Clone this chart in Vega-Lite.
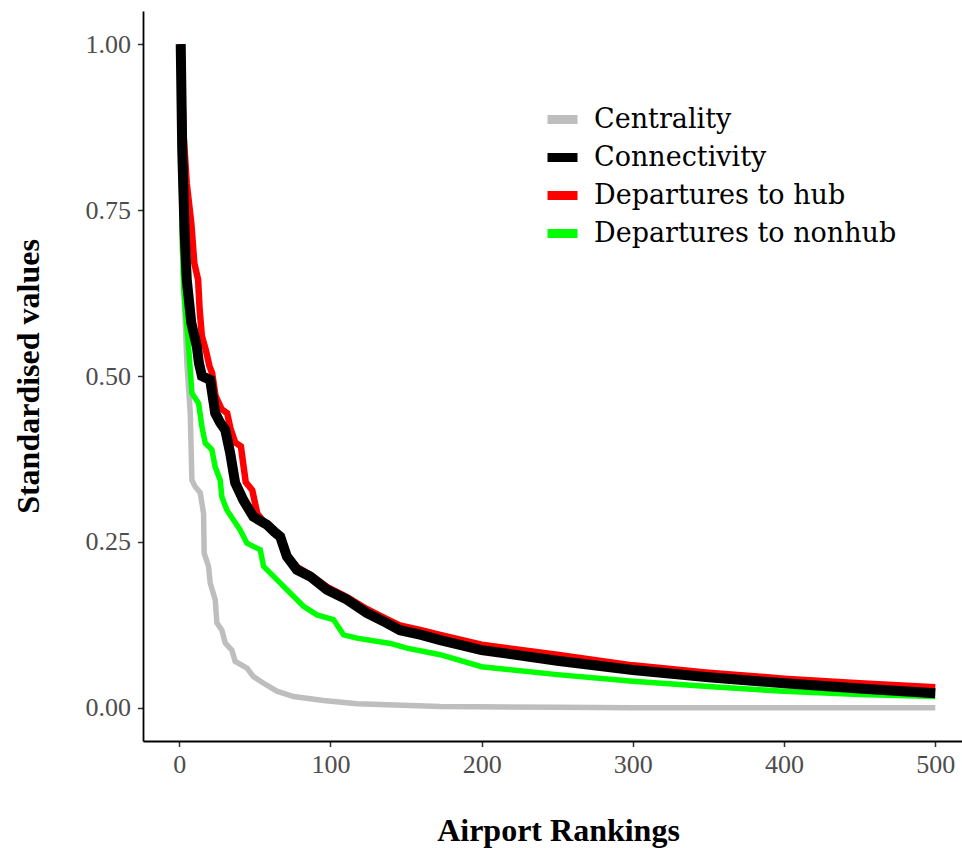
{
  "$schema": "https://vega.github.io/schema/vega-lite/v6.json",
  "autosize": {"type": "none"},
  "width": 830,
  "height": 730,
  "padding": {"left": 143, "top": 11, "right": 0, "bottom": 107},
  "background": "white",
  "config": {
    "view": {"stroke": null},
    "axis": {
      "grid": false,
      "domainColor": "#000000",
      "domainWidth": 1.8,
      "tickColor": "#333333",
      "tickWidth": 1.5,
      "tickSize": 5.5,
      "labelFont": "Liberation Serif",
      "labelFontSize": 26,
      "labelColor": "#4d4d4d",
      "titleFont": "Liberation Serif",
      "titleFontSize": 32,
      "titleFontWeight": "bold",
      "titleColor": "#000000"
    },
    "legend": {
      "labelFont": "DejaVu Serif",
      "labelFontSize": 27,
      "labelColor": "#000000",
      "labelLimit": 0,
      "symbolType": "stroke",
      "symbolSize": 900,
      "symbolStrokeWidth": 9,
      "labelOffset": 12,
      "rowPadding": -0.7,
      "padding": 0
    }
  },
  "data": {
    "values": [
      {"series": "Centrality", "rank": 1, "value": 1.0},
      {"series": "Centrality", "rank": 1.5, "value": 0.8},
      {"series": "Centrality", "rank": 2, "value": 0.7},
      {"series": "Centrality", "rank": 2.9, "value": 0.645},
      {"series": "Centrality", "rank": 5.1, "value": 0.519},
      {"series": "Centrality", "rank": 7.3, "value": 0.444},
      {"series": "Centrality", "rank": 8.4, "value": 0.343},
      {"series": "Centrality", "rank": 10.6, "value": 0.333},
      {"series": "Centrality", "rank": 13.9, "value": 0.324},
      {"series": "Centrality", "rank": 16.1, "value": 0.293},
      {"series": "Centrality", "rank": 16.5, "value": 0.233},
      {"series": "Centrality", "rank": 19.4, "value": 0.213},
      {"series": "Centrality", "rank": 20.5, "value": 0.188},
      {"series": "Centrality", "rank": 23.8, "value": 0.163},
      {"series": "Centrality", "rank": 24.9, "value": 0.128},
      {"series": "Centrality", "rank": 28.2, "value": 0.117},
      {"series": "Centrality", "rank": 30.4, "value": 0.098},
      {"series": "Centrality", "rank": 34.8, "value": 0.087},
      {"series": "Centrality", "rank": 37, "value": 0.07},
      {"series": "Centrality", "rank": 44.8, "value": 0.06},
      {"series": "Centrality", "rank": 49.1, "value": 0.047},
      {"series": "Centrality", "rank": 55.8, "value": 0.037},
      {"series": "Centrality", "rank": 64.6, "value": 0.025},
      {"series": "Centrality", "rank": 75.6, "value": 0.017},
      {"series": "Centrality", "rank": 95.4, "value": 0.011},
      {"series": "Centrality", "rank": 117.5, "value": 0.006},
      {"series": "Centrality", "rank": 172.6, "value": 0.002},
      {"series": "Centrality", "rank": 250, "value": 0.001},
      {"series": "Centrality", "rank": 300, "value": 0.0},
      {"series": "Centrality", "rank": 500, "value": 0.0},

      {"series": "Departures to nonhub", "rank": 1, "value": 1.0},
      {"series": "Departures to nonhub", "rank": 1.5, "value": 0.8},
      {"series": "Departures to nonhub", "rank": 2.2, "value": 0.69},
      {"series": "Departures to nonhub", "rank": 3, "value": 0.63},
      {"series": "Departures to nonhub", "rank": 4, "value": 0.6},
      {"series": "Departures to nonhub", "rank": 6.2, "value": 0.544},
      {"series": "Departures to nonhub", "rank": 8.4, "value": 0.474},
      {"series": "Departures to nonhub", "rank": 12.8, "value": 0.459},
      {"series": "Departures to nonhub", "rank": 15, "value": 0.424},
      {"series": "Departures to nonhub", "rank": 17.2, "value": 0.399},
      {"series": "Departures to nonhub", "rank": 21.6, "value": 0.389},
      {"series": "Departures to nonhub", "rank": 23.8, "value": 0.363},
      {"series": "Departures to nonhub", "rank": 27.1, "value": 0.343},
      {"series": "Departures to nonhub", "rank": 28.2, "value": 0.318},
      {"series": "Departures to nonhub", "rank": 31.5, "value": 0.298},
      {"series": "Departures to nonhub", "rank": 35.9, "value": 0.283},
      {"series": "Departures to nonhub", "rank": 40.3, "value": 0.268},
      {"series": "Departures to nonhub", "rank": 44.8, "value": 0.248},
      {"series": "Departures to nonhub", "rank": 53.6, "value": 0.238},
      {"series": "Departures to nonhub", "rank": 55.8, "value": 0.213},
      {"series": "Departures to nonhub", "rank": 62.4, "value": 0.198},
      {"series": "Departures to nonhub", "rank": 71.2, "value": 0.178},
      {"series": "Departures to nonhub", "rank": 82.2, "value": 0.153},
      {"series": "Departures to nonhub", "rank": 91.1, "value": 0.14},
      {"series": "Departures to nonhub", "rank": 102, "value": 0.133},
      {"series": "Departures to nonhub", "rank": 108.7, "value": 0.11},
      {"series": "Departures to nonhub", "rank": 117.5, "value": 0.105},
      {"series": "Departures to nonhub", "rank": 139.6, "value": 0.097},
      {"series": "Departures to nonhub", "rank": 150.6, "value": 0.09},
      {"series": "Departures to nonhub", "rank": 172.6, "value": 0.08},
      {"series": "Departures to nonhub", "rank": 200, "value": 0.062},
      {"series": "Departures to nonhub", "rank": 250, "value": 0.05},
      {"series": "Departures to nonhub", "rank": 300, "value": 0.04},
      {"series": "Departures to nonhub", "rank": 350, "value": 0.032},
      {"series": "Departures to nonhub", "rank": 400, "value": 0.025},
      {"series": "Departures to nonhub", "rank": 450, "value": 0.02},
      {"series": "Departures to nonhub", "rank": 500, "value": 0.017},

      {"series": "Departures to hub", "rank": 1, "value": 1.0},
      {"series": "Departures to hub", "rank": 3, "value": 0.86},
      {"series": "Departures to hub", "rank": 5, "value": 0.79},
      {"series": "Departures to hub", "rank": 8, "value": 0.73},
      {"series": "Departures to hub", "rank": 10, "value": 0.67},
      {"series": "Departures to hub", "rank": 12.5, "value": 0.645},
      {"series": "Departures to hub", "rank": 13.5, "value": 0.6},
      {"series": "Departures to hub", "rank": 15, "value": 0.56},
      {"series": "Departures to hub", "rank": 17.6, "value": 0.539},
      {"series": "Departures to hub", "rank": 20, "value": 0.515},
      {"series": "Departures to hub", "rank": 21.8, "value": 0.504},
      {"series": "Departures to hub", "rank": 24, "value": 0.47},
      {"series": "Departures to hub", "rank": 28, "value": 0.45},
      {"series": "Departures to hub", "rank": 31.7, "value": 0.444},
      {"series": "Departures to hub", "rank": 34, "value": 0.42},
      {"series": "Departures to hub", "rank": 37, "value": 0.4},
      {"series": "Departures to hub", "rank": 40.8, "value": 0.394},
      {"series": "Departures to hub", "rank": 42, "value": 0.373},
      {"series": "Departures to hub", "rank": 44, "value": 0.34},
      {"series": "Departures to hub", "rank": 48.3, "value": 0.328},
      {"series": "Departures to hub", "rank": 50, "value": 0.31},
      {"series": "Departures to hub", "rank": 51.6, "value": 0.293},
      {"series": "Departures to hub", "rank": 56, "value": 0.28},
      {"series": "Departures to hub", "rank": 63, "value": 0.268},
      {"series": "Departures to hub", "rank": 67, "value": 0.26},
      {"series": "Departures to hub", "rank": 71, "value": 0.232},
      {"series": "Departures to hub", "rank": 78, "value": 0.212},
      {"series": "Departures to hub", "rank": 87, "value": 0.2},
      {"series": "Departures to hub", "rank": 98, "value": 0.182},
      {"series": "Departures to hub", "rank": 111, "value": 0.167},
      {"series": "Departures to hub", "rank": 124, "value": 0.149},
      {"series": "Departures to hub", "rank": 137, "value": 0.134},
      {"series": "Departures to hub", "rank": 146, "value": 0.124},
      {"series": "Departures to hub", "rank": 160, "value": 0.117},
      {"series": "Departures to hub", "rank": 172.6, "value": 0.11},
      {"series": "Departures to hub", "rank": 200, "value": 0.095},
      {"series": "Departures to hub", "rank": 250, "value": 0.08},
      {"series": "Departures to hub", "rank": 300, "value": 0.064},
      {"series": "Departures to hub", "rank": 350, "value": 0.053},
      {"series": "Departures to hub", "rank": 400, "value": 0.044},
      {"series": "Departures to hub", "rank": 450, "value": 0.037},
      {"series": "Departures to hub", "rank": 500, "value": 0.031},

      {"series": "Connectivity", "rank": 1, "value": 1.0},
      {"series": "Connectivity", "rank": 2, "value": 0.84},
      {"series": "Connectivity", "rank": 3.5, "value": 0.72},
      {"series": "Connectivity", "rank": 5, "value": 0.645},
      {"series": "Connectivity", "rank": 8, "value": 0.58},
      {"series": "Connectivity", "rank": 11.7, "value": 0.544},
      {"series": "Connectivity", "rank": 13, "value": 0.52},
      {"series": "Connectivity", "rank": 15, "value": 0.5},
      {"series": "Connectivity", "rank": 20.5, "value": 0.494},
      {"series": "Connectivity", "rank": 23.8, "value": 0.444},
      {"series": "Connectivity", "rank": 27, "value": 0.43},
      {"series": "Connectivity", "rank": 30.4, "value": 0.419},
      {"series": "Connectivity", "rank": 33.7, "value": 0.384},
      {"series": "Connectivity", "rank": 37, "value": 0.339},
      {"series": "Connectivity", "rank": 42.4, "value": 0.313},
      {"series": "Connectivity", "rank": 49, "value": 0.288},
      {"series": "Connectivity", "rank": 58, "value": 0.276},
      {"series": "Connectivity", "rank": 63, "value": 0.265},
      {"series": "Connectivity", "rank": 66.8, "value": 0.258},
      {"series": "Connectivity", "rank": 71.2, "value": 0.228},
      {"series": "Connectivity", "rank": 77.8, "value": 0.208},
      {"series": "Connectivity", "rank": 86.6, "value": 0.198},
      {"series": "Connectivity", "rank": 97.7, "value": 0.178},
      {"series": "Connectivity", "rank": 110.9, "value": 0.163},
      {"series": "Connectivity", "rank": 124, "value": 0.143},
      {"series": "Connectivity", "rank": 137, "value": 0.128},
      {"series": "Connectivity", "rank": 146, "value": 0.117},
      {"series": "Connectivity", "rank": 160, "value": 0.11},
      {"series": "Connectivity", "rank": 172.6, "value": 0.102},
      {"series": "Connectivity", "rank": 200, "value": 0.087},
      {"series": "Connectivity", "rank": 250, "value": 0.071},
      {"series": "Connectivity", "rank": 300, "value": 0.057},
      {"series": "Connectivity", "rank": 350, "value": 0.046},
      {"series": "Connectivity", "rank": 400, "value": 0.037},
      {"series": "Connectivity", "rank": 450, "value": 0.029},
      {"series": "Connectivity", "rank": 500, "value": 0.022}
    ]
  },
  "encoding": {
    "x": {
      "field": "rank",
      "type": "quantitative",
      "title": "Airport Rankings",
      "scale": {"domain": [-23.95, 524.95], "nice": false, "zero": false},
      "axis": {"values": [0, 100, 200, 300, 400, 500], "labelPadding": 5, "titlePadding": 38, "labelFlush": false}
    },
    "y": {
      "field": "value",
      "type": "quantitative",
      "title": "Standardised values",
      "scale": {"domain": [-0.05, 1.05], "nice": false, "zero": false},
      "axis": {"values": [0, 0.25, 0.5, 0.75, 1.0], "format": ".2f", "labelPadding": 7, "titlePadding": 40, "labelFlush": false}
    },
    "color": {
      "field": "series",
      "type": "nominal",
      "title": null,
      "scale": {
        "domain": ["Centrality", "Connectivity", "Departures to hub", "Departures to nonhub"],
        "range": ["#BEBEBE", "#000000", "#FF0000", "#00FF00"]
      },
      "legend": {"orient": "none", "legendX": 400, "legendY": 89}
    }
  },
  "layer": [
    {"transform": [{"filter": "datum.series === 'Centrality'"}], "mark": {"type": "line", "strokeWidth": 5.5, "clip": true}},
    {"transform": [{"filter": "datum.series === 'Departures to nonhub'"}], "mark": {"type": "line", "strokeWidth": 5.5, "clip": true}},
    {"transform": [{"filter": "datum.series === 'Departures to hub'"}], "mark": {"type": "line", "strokeWidth": 6.5, "clip": true}},
    {"transform": [{"filter": "datum.series === 'Connectivity'"}], "mark": {"type": "line", "strokeWidth": 10, "clip": true}}
  ]
}
